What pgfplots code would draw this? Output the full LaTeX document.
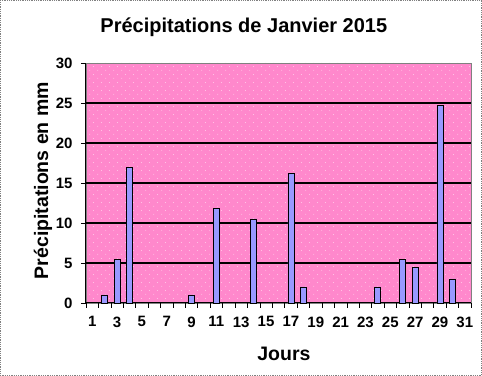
\documentclass[border=0pt]{standalone}
\usepackage{pgfplots}
\pgfplotsset{compat=1.18}
\usepackage{fontspec}
\setmainfont{Liberation Sans}
\usetikzlibrary{patterns.meta}
\definecolor{pinkc}{RGB}{255,136,204}
\definecolor{barc}{RGB}{153,153,255}
\tikzdeclarepattern{name=sdots, type=uncolored, bounding box={(0,0) and (8pt,8pt)}, tile size={(8pt,8pt)},
  code={\fill (2pt,2pt) circle (0.5pt); \fill (6pt,6pt) circle (0.5pt);}}
\begin{document}
\begin{tikzpicture}
\begin{axis}[
  scale only axis, width=385pt, height=240pt,
  xmin=0.5, xmax=31.5, ymin=0, ymax=30,
  axis background/.style={preaction={fill=pinkc}, pattern={sdots}, pattern color=white!85!pinkc, draw=gray},
  axis x line*=bottom, axis y line*=left,
  axis line style={black, line width=1pt, -},
  xtick={1,3,...,31},
  minor xtick={0.5,1.5,...,31.5},
  major x tick style={draw=none},
  minor x tick style={black, line width=0.6pt},
  minor tick length=5pt,
  ytick={0,5,...,30},
  y tick style={black, line width=0.6pt},
  major tick length=5pt,
  tick align=outside,
  extra y ticks={5,10,15,20,25},
  extra y tick labels={},
  extra y tick style={grid=major, major tick length=0pt},
  grid style={black, line width=1.6pt},
  /pgf/number format/assume math mode=true,
  ticklabel style={font=\fontsize{15}{17}\selectfont\bfseries},
  xticklabel style={yshift=-5pt},
  yticklabel style={xshift=-5pt},
  ybar, bar width=6pt,
  clip=false,
]
\addplot[fill=barc, draw=black, line width=0.8pt] coordinates {
(2,1.0) (3,5.4) (4,16.9) (9,1.0) (11,11.8) (14,10.5) (17,16.2) (18,2.0)
(24,2.0) (26,5.4) (27,4.4) (29,24.7) (30,3.0)};
\node[font=\fontsize{20}{24}\selectfont\bfseries] at ([yshift=36pt]axis description cs:0.41,1) {Précipitations de Janvier 2015};
\node[font=\fontsize{19.5}{23}\selectfont\bfseries, rotate=90] at ([xshift=-43pt]axis description cs:0,0.51) {Précipitations en mm};
\node[font=\fontsize{19.5}{23}\selectfont\bfseries] at ([yshift=-51pt]axis description cs:0.514,0) {Jours};
\coordinate (BL) at ([shift={(-86pt,-73pt)}]axis description cs:0,0);
\coordinate (TR) at ([shift={(11pt,63pt)}]axis description cs:1,1);
\end{axis}
\draw[gray, densely dotted, line width=0.8pt] ([shift={(0.5pt,0.5pt)}]BL) rectangle ([shift={(-0.5pt,-0.5pt)}]TR);
\pgfresetboundingbox
\path[use as bounding box] (BL) rectangle (TR);
\end{tikzpicture}
\end{document}
